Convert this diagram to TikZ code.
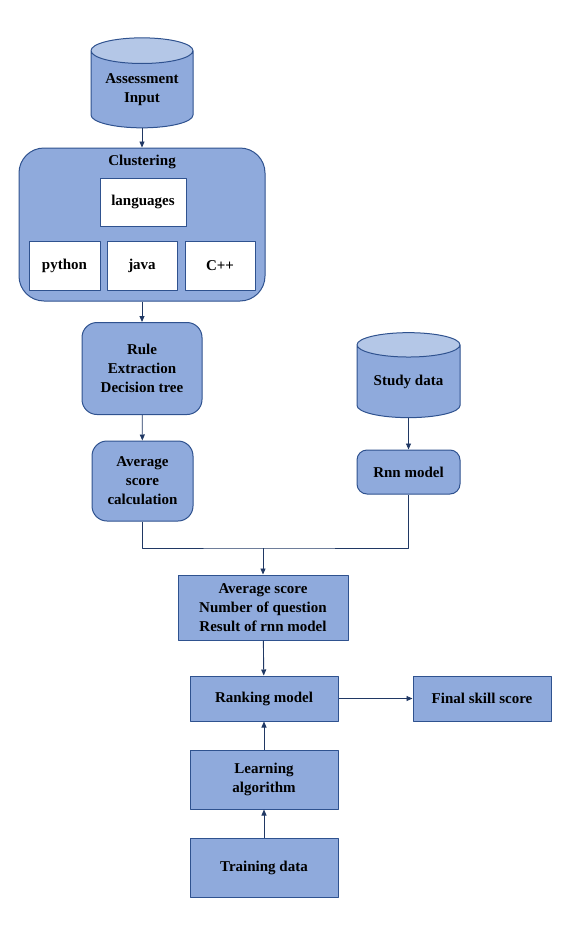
\documentclass[tikz,border=0pt]{standalone}
\usepackage{fontspec}
\setmainfont{Liberation Serif}
\usetikzlibrary{shapes.geometric,arrows.meta,positioning}
\definecolor{boxfill}{HTML}{8FAADC}
\definecolor{boxline}{HTML}{2F528F}
\definecolor{toplight}{HTML}{B4C7E7}
\definecolor{linkcol}{HTML}{203864}
\tikzset{
  blk/.style={draw=boxline, fill=boxfill, line width=1pt, align=center, inner sep=0pt},
  rblk/.style={blk, rounded corners=15pt},
  wbox/.style={draw=boxline, fill=white, line width=1pt, align=center, inner sep=0pt},
  db/.style={cylinder, shape border rotate=90, draw=boxline, line width=1pt, cylinder uses custom fill,
    cylinder body fill=boxfill, cylinder end fill=toplight, aspect=0.35, inner sep=0pt, align=center},
  link/.style={->, draw=linkcol, line width=0.9pt}
}
\begin{document}
\begin{tikzpicture}[x=1pt, y=-1pt, font=\fontsize{15}{19}\selectfont\bfseries,
    >={Triangle[length=6pt,width=5pt]}, line join=round]
  \useasboundingbox (0,0) rectangle (562,926);
  % left column
  \node[db, minimum width=102pt, minimum height=90pt] (ain) at (142,89.5) {Assessment\\Input};
  \node[blk, rounded corners=25pt, minimum width=246pt, minimum height=153pt] (clus) at (142,224.5) {};
  \node (clustitle) at (142,162) {Clustering};
  \node[wbox, minimum width=86pt, minimum height=48pt] (lang) at (143,202) {languages};
  \node[wbox, minimum width=71pt, minimum height=49pt] (py) at (64.5,265.5) {python};
  \node[wbox, minimum width=70pt, minimum height=49pt] (jv) at (142,265.5) {java};
  \node[wbox, minimum width=70pt, minimum height=49pt] (cpp) at (220,265.5) {C++};
  \node[rblk, minimum width=120pt, minimum height=92pt] (rule) at (142,368.5) {Rule\\Extraction\\Decision tree};
  \node[rblk, minimum width=101pt, minimum height=80pt] (avg) at (142.5,481) {Average\\score\\calculation};
  % right column
  \node[db, minimum width=103pt, minimum height=85pt] (study) at (408.5,381.5) {Study data};
  \node[blk, rounded corners=10pt, minimum width=103pt, minimum height=44pt] (rnn) at (408.5,472) {Rnn model};
  % lower part
  \coordinate (merge) at (263,548);
  \node[blk, minimum width=170pt, minimum height=65pt] (feat) at (263,607.5) {Average score\\Number of question\\Result of rnn model};
  \node[blk, minimum width=148pt, minimum height=45pt] (rank) at (264,698.5) {Ranking model};
  \node[blk, minimum width=138pt, minimum height=45pt] (final) at (482,698.5) {Final skill score};
  \node[blk, minimum width=148pt, minimum height=59pt] (learn) at (264,779.5) {Learning\\algorithm};
  \node[blk, minimum width=148pt, minimum height=59pt] (train) at (264,867.5) {Training data};
  % connectors
  \draw[link] (ain) -- (clus);
  \draw[link] (clus) -- (rule);
  \draw[link] (rule) -- (avg);
  \draw[link] (study) -- (rnn);
  \draw[draw=linkcol, line width=0.9pt] (avg.south) |- (merge) -| (rnn.south);
  \draw[link] (merge) -- (feat);
  \draw[link] (feat) -- (rank);
  \draw[link] (rank) -- (final);
  \draw[link] (learn) -- (rank);
  \draw[link] (train) -- (learn);
\end{tikzpicture}
\end{document}
